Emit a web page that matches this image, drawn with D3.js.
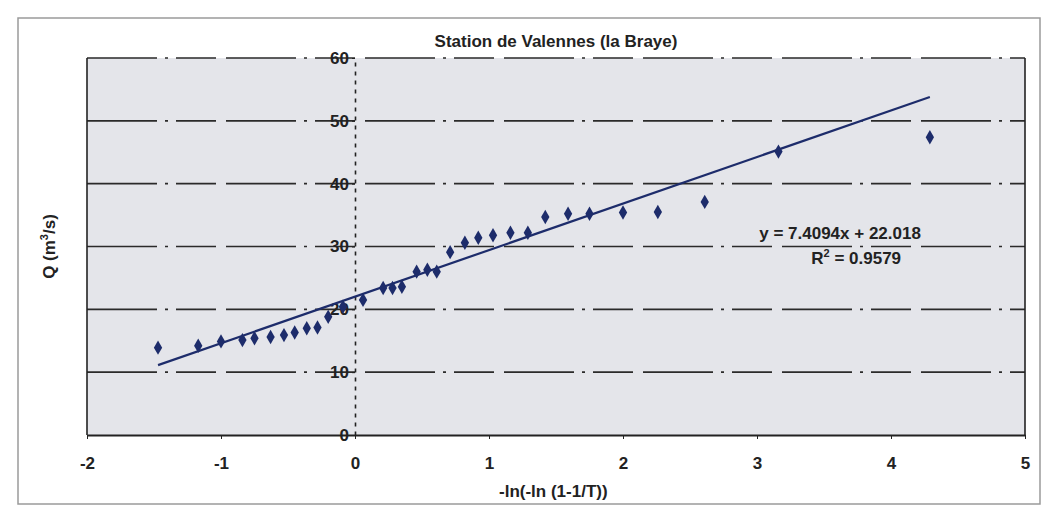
<!DOCTYPE html>
<html>
<head>
<meta charset="utf-8">
<script src="https://cdn.jsdelivr.net/npm/d3@7"></script>
<style>
    body { margin: 0; background: #ffffff; }
    text { font-family: "Liberation Sans", Arial, sans-serif; }
</style>
</head>
<body>
<svg id="drawing_region"></svg>
<script>
// reduced variable -ln(-ln(1-1/T)) and discharge Q (m3/s)
const gumbel_x = [-1.47, -1.17, -1.0, -0.84, -0.75, -0.63, -0.53, -0.45, -0.36, -0.28, -0.2,
    -0.09, 0.06, 0.21, 0.28, 0.35, 0.46, 0.54, 0.61, 0.71, 0.82, 0.92, 1.03, 1.16, 1.29,
    1.42, 1.59, 1.75, 2.0, 2.26, 2.61, 3.16, 4.29];
const discharge = [13.9, 14.2, 14.9, 15.1, 15.4, 15.6, 15.9, 16.3, 17.0, 17.1, 18.8,
    20.4, 21.5, 23.4, 23.4, 23.6, 26.0, 26.3, 26.0, 29.1, 30.6, 31.4, 31.8, 32.2, 32.2,
    34.7, 35.2, 35.2, 35.4, 35.5, 37.1, 45.1, 47.4];
const x_ticks = [-2, -1, 0, 1, 2, 3, 4, 5];
const y_ticks = [0, 10, 20, 30, 40, 50, 60];
const trend = { slope: 7.4094, intercept: 22.018, r2: "0.9579" };

const data = gumbel_x.map( (x, i) => ({ x: x, y: discharge[i] }) );

class GumbelPlot {

    constructor( config, data ) {
        this.config = {
            parent: config.parent,
            width: config.width || 256,
            height: config.height || 256,
            margin: config.margin || {top:10, right:10, bottom:10, left:10}
        }
        this.data = data;
        this.init();
    }

    init() {
        let self = this;

        self.svg = d3.select( self.config.parent )
            .attr('width', self.config.width)
            .attr('height', self.config.height);

        // outer chart frame
        self.svg.append('rect')
            .attr('x', 18).attr('y', 18)
            .attr('width', self.config.width - 26)
            .attr('height', self.config.height - 28)
            .attr('fill', 'none')
            .attr('stroke', '#9a9a9a')
            .attr('stroke-width', 1.5);

        self.chart = self.svg.append('g')
            .attr('transform', `translate(${self.config.margin.left}, ${self.config.margin.top})`);

        self.inner_width = self.config.width - self.config.margin.left - self.config.margin.right;
        self.inner_height = self.config.height - self.config.margin.top - self.config.margin.bottom;

        self.xscale = d3.scaleLinear()
            .domain( [-2, 5] )
            .range( [0, self.inner_width] );

        self.yscale = d3.scaleLinear()
            .domain( [0, 60] )
            .range( [self.inner_height, 0] );
    }

    update() {
        let self = this;
        self.render();
    }

    render() {
        let self = this;
        const w = self.inner_width, h = self.inner_height;

        self.chart.append('rect')
            .attr('width', w)
            .attr('height', h)
            .attr('fill', '#e4e5ea');

        // horizontal gridlines
        self.chart.selectAll('.grid')
            .data(y_ticks.filter(d => d > 0))
            .enter()
            .append('line')
            .attr('class', 'grid')
            .attr('x1', 0).attr('x2', w)
            .attr('y1', d => self.yscale(d))
            .attr('y2', d => self.yscale(d))
            .attr('stroke', '#2a2a2a')
            .attr('stroke-width', 1.6)
            .attr('stroke-dasharray', '70,8,3,8,40,10');

        // plot border left / right
        self.chart.append('line')
            .attr('x1', 0).attr('x2', 0).attr('y1', 0).attr('y2', h)
            .attr('stroke', '#222').attr('stroke-width', 1.6);
        self.chart.append('line')
            .attr('x1', w).attr('x2', w).attr('y1', 0).attr('y2', h)
            .attr('stroke', '#222').attr('stroke-width', 1.6);

        // x axis along Q = 0
        self.xaxis = d3.axisBottom( self.xscale )
            .tickValues(x_ticks)
            .tickSize(4)
            .tickSizeOuter(0)
            .tickFormat(d => String(d));

        self.xaxis_group = self.chart.append('g')
            .attr('transform', `translate(0, ${h})`)
            .call( self.xaxis );
        self.xaxis_group.select('.domain')
            .attr('stroke', '#222').attr('stroke-width', 2);
        self.xaxis_group.selectAll('.tick line').attr('stroke', '#222');
        self.xaxis_group.selectAll('.tick text')
            .attr('dy', '1.6em')
            .attr('font-size', '17px')
            .attr('font-weight', 700)
            .attr('fill', '#222');

        // y axis crossing at x = 0
        self.yaxis = d3.axisLeft( self.yscale )
            .tickValues(y_ticks)
            .tickSize(3)
            .tickSizeOuter(0);

        self.yaxis_group = self.chart.append('g')
            .attr('transform', `translate(${self.xscale(0)}, 0)`)
            .call( self.yaxis );
        self.yaxis_group.select('.domain')
            .attr('stroke', '#222')
            .attr('stroke-width', 1.6)
            .attr('stroke-dasharray', '4,5');
        self.yaxis_group.selectAll('.tick line').attr('stroke', '#222');
        self.yaxis_group.selectAll('.tick text')
            .attr('x', -6)
            .attr('font-size', '17px')
            .attr('font-weight', 700)
            .attr('fill', '#222');

        // trendline over data range
        const xr = d3.extent(self.data, d => d.x);
        self.chart.append('line')
            .attr('x1', self.xscale(xr[0]))
            .attr('y1', self.yscale(trend.slope * xr[0] + trend.intercept))
            .attr('x2', self.xscale(xr[1]))
            .attr('y2', self.yscale(trend.slope * xr[1] + trend.intercept))
            .attr('stroke', '#1d2c6b')
            .attr('stroke-width', 2.2);

        // diamond markers
        self.chart.selectAll('.pt')
            .data(self.data)
            .enter()
            .append('path')
            .attr('class', 'pt')
            .attr('d', d3.symbol().type(d3.symbolDiamond).size(60))
            .attr('transform', d => `translate(${self.xscale(d.x)}, ${self.yscale(d.y)})`)
            .attr('fill', '#1d2c6b');

        // equation label
        self.chart.append('text')
            .attr('x', self.xscale(3.62))
            .attr('y', self.yscale(31.2))
            .attr('text-anchor', 'middle')
            .attr('font-size', '17px')
            .attr('font-weight', 700)
            .attr('fill', '#222')
            .text(`y = ${trend.slope}x + ${trend.intercept}`);

        const r2 = self.chart.append('text')
            .attr('x', self.xscale(3.74))
            .attr('y', self.yscale(27.2))
            .attr('text-anchor', 'middle')
            .attr('font-size', '17px')
            .attr('font-weight', 700)
            .attr('fill', '#222');
        r2.append('tspan').text('R');
        r2.append('tspan').attr('dy', -7).attr('font-size', '11px').text('2');
        r2.append('tspan').attr('dy', 7).text(` = ${trend.r2}`);

        // titles
        self.svg.append('text')
            .attr('x', self.config.margin.left + w / 2)
            .attr('y', 47)
            .attr('text-anchor', 'middle')
            .attr('font-size', '17px')
            .attr('font-weight', 700)
            .attr('fill', '#222')
            .text('Station de Valennes (la Braye)');

        self.svg.append('text')
            .attr('x', self.config.margin.left + self.xscale(1.48))
            .attr('y', 497)
            .attr('text-anchor', 'middle')
            .attr('font-size', '17px')
            .attr('font-weight', 700)
            .attr('fill', '#222')
            .text('-ln(-ln (1-1/T))');

        const yt = self.svg.append('text')
            .attr('transform', `translate(55, ${self.config.margin.top + h / 2}) rotate(-90)`)
            .attr('text-anchor', 'middle')
            .attr('font-size', '17px')
            .attr('font-weight', 700)
            .attr('fill', '#222');
        yt.append('tspan').text('Q (m');
        yt.append('tspan').attr('dy', -7).attr('font-size', '11px').text('3');
        yt.append('tspan').attr('dy', 7).text('/s)');
    }
}

var config = {
    parent: '#drawing_region',
    width: 1048,
    height: 514,
    margin: {top:58, right:23, bottom:79, left:87}
};

const gumbel_plot = new GumbelPlot( config, data );
gumbel_plot.update();
</script>
</body>
</html>
